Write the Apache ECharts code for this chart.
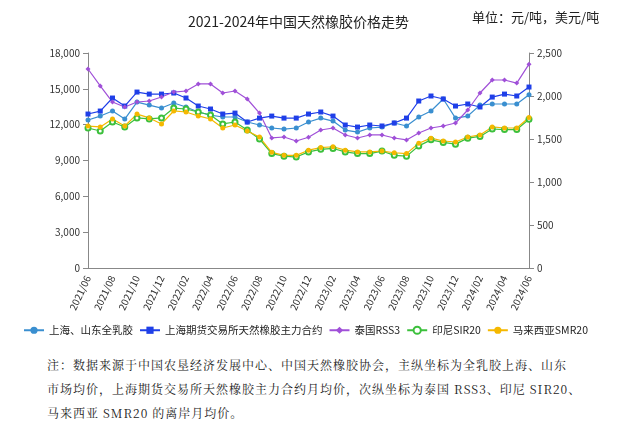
<!DOCTYPE html>
<html>
<head>
<meta charset="utf-8">
<script src="https://cdn.jsdelivr.net/npm/echarts@6/dist/echarts.min.js"></script>
<style>
body{margin:0;background:#fff;}
#chart{width:640px;height:340px;}
.note{position:absolute;left:47px;top:353px;white-space:nowrap;font-family:"Noto Serif CJK SC","Noto Sans CJK SC",serif;font-size:12px;letter-spacing:1px;line-height:24px;color:#222;}
</style>
</head>
<body>
<div id="chart"></div>
<div class="note">注：数据来源于中国农垦经济发展中心、中国天然橡胶协会，主纵坐标为全乳胶上海、山东<br>市场均价，上海期货交易所天然橡胶主力合约月均价，次纵坐标为泰国 RSS3、印尼 SIR20、<br>马来西亚 SMR20 的离岸月均价。</div>
<script>
// 月份
var months = [];
for (var y = 2021; y <= 2024; y++) {
    for (var m = 1; m <= 12; m++) {
        if ((y == 2021 && m < 6) || (y == 2024 && m > 6)) continue;
        months.push(y + '/' + (m < 10 ? '0' + m : m));
    }
}
// 主坐标 元/吨
var qrj = [12390,12720,13140,12470,13890,13640,13390,13810,13480,13060,12800,12640,12640,12220,11970,11720,11630,11720,12220,12550,12300,11550,11380,11720,11800,12140,11890,12640,13140,14150,12550,12720,13640,13730,13730,13730,14500];
var shfe = [12890,13140,14230,13560,14730,14560,14560,14650,14230,13560,13310,12890,12970,12220,12550,12720,12550,12550,12890,13060,12720,11970,11800,11970,11890,12140,12550,13980,14400,14150,13560,13730,13480,14310,14560,14400,15150];
// 次坐标 美元/吨
var rss3 = [2314,2117,1930,1872,1930,1942,1988,2046,2058,2140,2140,2035,2058,1965,1802,1512,1523,1477,1520,1605,1628,1547,1512,1547,1547,1512,1489,1570,1628,1651,1686,1837,2035,2186,2186,2150,2370];
var sir20 = [1628,1593,1698,1640,1745,1733,1745,1860,1849,1814,1779,1675,1698,1605,1500,1330,1300,1290,1350,1380,1390,1350,1330,1330,1360,1310,1300,1420,1490,1460,1440,1510,1530,1616,1610,1610,1730];
var smr20 = [1650,1640,1733,1651,1790,1745,1675,1826,1814,1768,1733,1628,1663,1593,1523,1345,1310,1310,1370,1400,1410,1370,1350,1350,1360,1340,1330,1450,1510,1477,1465,1523,1547,1640,1628,1628,1750];

var myChart = echarts.init(document.getElementById('chart'));
var font = '"Noto Sans CJK SC", sans-serif';
myChart.setOption({
    textStyle: {fontFamily: font},
    title: [
        {text: '2021-2024年中国天然橡胶价格走势', left: 183, top: 10, textStyle: {fontSize: 14, fontWeight: 'normal', color: '#222', fontFamily: font}},
        {text: '单位：元/吨，美元/吨', left: 467, top: 6, textStyle: {fontSize: 13, fontWeight: 'normal', color: '#222', fontFamily: font}}
    ],
    color: ['#3A8FD0', '#1F3FE8', '#A050D8', '#3CC03C', '#F5B800'],
    legend: {
        top: 320, left: 18, itemGap: 6, itemWidth: 20, itemHeight: 9,
        textStyle: {fontSize: 10.5, color: '#222'},
        data: ['上海、山东全乳胶', '上海期货交易所天然橡胶主力合约', '泰国RSS3', '印尼SIR20', '马来西亚SMR20']
    },
    grid: {left: 88, right: 111, top: 53, bottom: 72},
    xAxis: {
        type: 'category', data: months, boundaryGap: false,
        axisLine: {lineStyle: {color: '#888'}},
        axisTick: {show: false},
        axisLabel: {interval: 1, rotate: 65, fontSize: 10, color: '#333'}
    },
    yAxis: [
        {type: 'value', min: 0, max: 18000, interval: 3000, splitLine: {show: false},
         axisLine: {show: true, lineStyle: {color: '#888'}}, axisTick: {show: true},
         axisLabel: {fontSize: 10, color: '#333', formatter: function (v) { return v.toLocaleString('en-US'); }}},
        {type: 'value', min: 0, max: 2500, interval: 500, splitLine: {show: false},
         axisLine: {show: true, lineStyle: {color: '#888'}}, axisTick: {show: true},
         axisLabel: {fontSize: 10, color: '#333', formatter: function (v) { return v.toLocaleString('en-US'); }}}
    ],
    series: [
        {name: '上海、山东全乳胶', type: 'line', data: qrj, symbol: 'circle', symbolSize: 5, lineStyle: {width: 1.2}},
        {name: '上海期货交易所天然橡胶主力合约', type: 'line', data: shfe, symbol: 'rect', symbolSize: 5, lineStyle: {width: 1.2}},
        {name: '泰国RSS3', type: 'line', yAxisIndex: 1, data: rss3, symbol: 'diamond', symbolSize: 5, lineStyle: {width: 1.2}},
        {name: '印尼SIR20', type: 'line', yAxisIndex: 1, data: sir20, symbol: 'emptyCircle', symbolSize: 5, lineStyle: {width: 1.2}},
        {name: '马来西亚SMR20', type: 'line', yAxisIndex: 1, data: smr20, symbol: 'circle', symbolSize: 5, lineStyle: {width: 1.2}}
    ]
});
</script>
</body>
</html>
